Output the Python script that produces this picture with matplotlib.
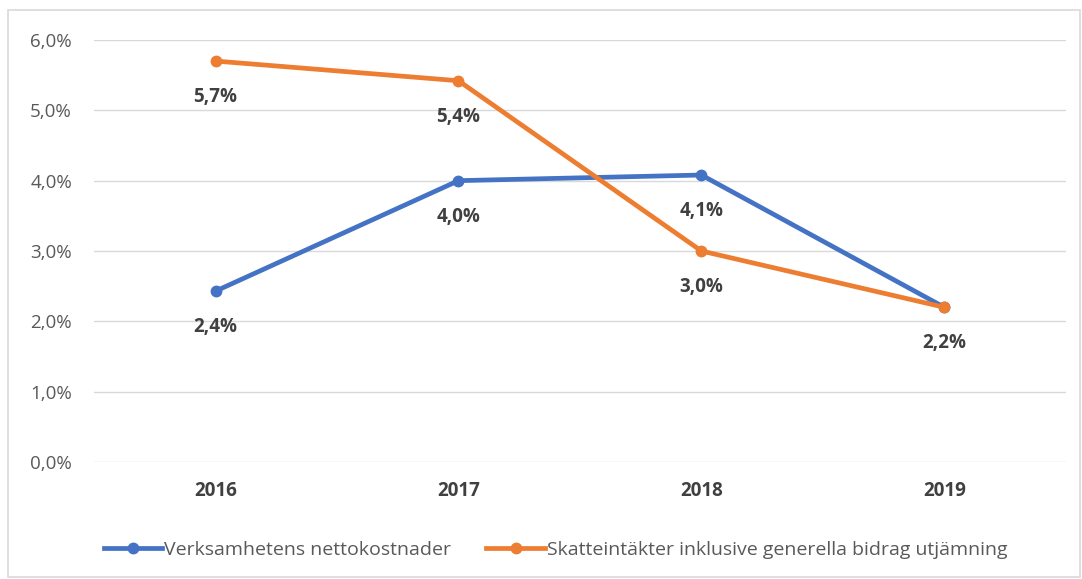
import matplotlib.pyplot as plt
from matplotlib.patches import Rectangle

# Data
years = ['2016', '2017', '2018', '2019']
netto = [2.43, 4.0, 4.08, 2.2]
skatt = [5.7, 5.42, 3.0, 2.2]
names = ['Verksamhetens nettokostnader',
         'Skatteintäkter inklusive generella bidrag utjämning']

plt.rcParams['font.family'] = ['Open Sans', 'DejaVu Sans']

fig = plt.figure(figsize=(10.82, 5.79), dpi=100)
ax = fig.add_axes([0.087, 0.202, 0.898, 0.729])

# chart border
fig.patches.append(Rectangle((8 / 1082, 2 / 579), 1072 / 1082, 567 / 579,
                             transform=fig.transFigure, fill=False,
                             edgecolor='#d9d9d9', linewidth=1.2))

x = range(len(years))
ax.plot(x, netto, color='#4472C4', lw=3.4, marker='o', ms=7.5, label=names[0], zorder=3)
ax.plot(x, skatt, color='#ED7D31', lw=3.4, marker='o', ms=7.5, label=names[1], zorder=3)

# data labels (2019 shares one label, both series at 2,2%)
done = set()
for series in (netto, skatt):
    for i, v in enumerate(series):
        lbl = f'{v:.1f}'.replace('.', ',') + '%'
        if (i, lbl) in done:
            continue
        done.add((i, lbl))
        ax.annotate(lbl, (i, v), xytext=(0, -26), textcoords='offset points',
                    ha='center', va='center', fontsize=13.5, fontweight='bold',
                    color='#404040')

ax.set_xlim(-0.5, 3.5)
ax.set_ylim(0, 6)
ax.set_yticks([0, 1, 2, 3, 4, 5, 6])
ax.set_yticklabels([f'{t},0%' for t in range(7)])
ax.set_xticks(list(x))
ax.set_xticklabels(years, fontweight='bold')
ax.tick_params(axis='both', length=0, labelsize=13.5, colors='#595959')
ax.tick_params(axis='x', pad=14, colors='#404040')
ax.tick_params(axis='y', pad=16)
ax.grid(axis='y', color='#d9d9d9', lw=1)
ax.set_axisbelow(True)
for s in ax.spines.values():
    s.set_visible(False)

leg = ax.legend(loc='upper center', bbox_to_anchor=(0.475, -0.145), ncol=2,
                frameon=False, fontsize=14, handlelength=3, columnspacing=1.8,
                labelcolor='#595959', handletextpad=0.1)

fig.savefig('out.png', dpi=100)
